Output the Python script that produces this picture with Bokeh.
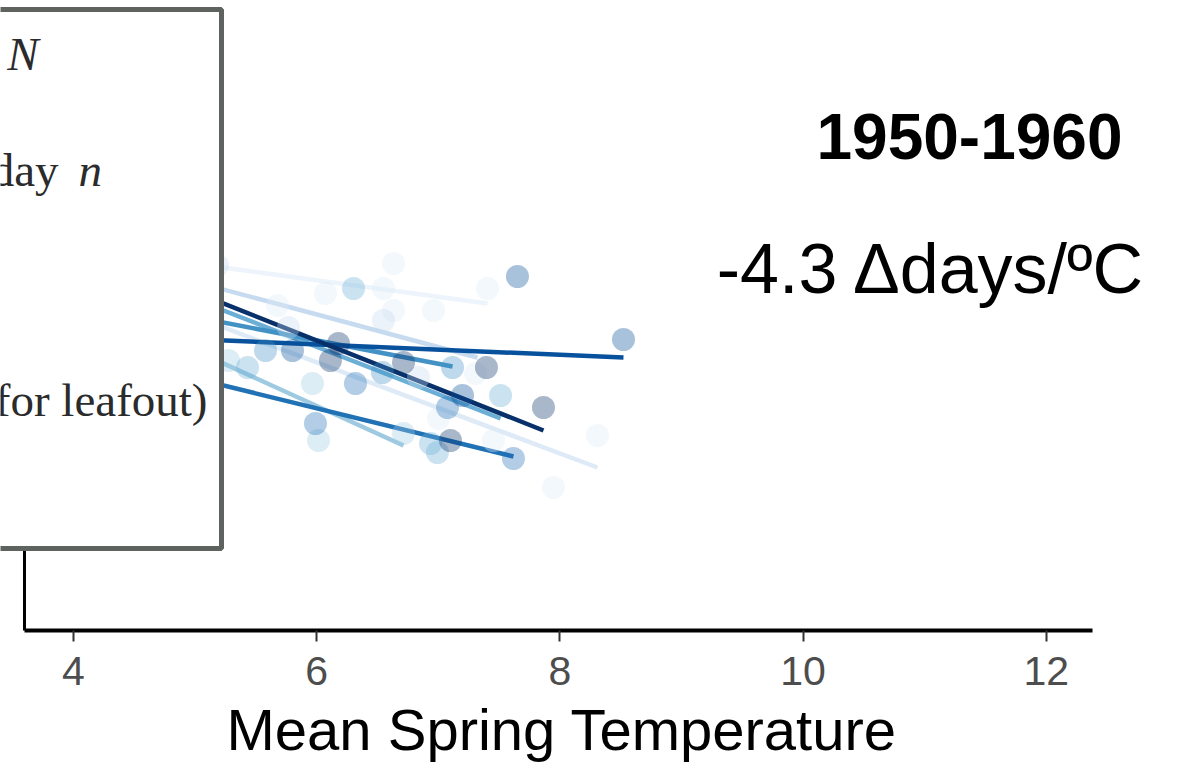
from bokeh.plotting import figure
from bokeh.models import Range1d, FixedTicker, Label, ColumnDataSource, Title
from bokeh.core.properties import value
from bokeh.embed import file_html
from bokeh.resources import INLINE

# ---- data ----
palette = ["#edf4fb", "#deebf7", "#c6dbef", "#9ecae1", "#6baed6",
           "#4292c6", "#2171b5", "#08519c", "#08306b"]

# regression lines per series (start / end of each fitted line)
line_x0 = [4.60, 4.60, 4.60, 4.60, 4.60, 4.60, 4.60, 4.60, 4.60]
line_y0 = [137.35, 133.18, 136.16, 130.21, 135.00, 132.28, 126.39, 129.33, 135.76]
line_x1 = [7.405, 8.309, 7.322, 6.714, 7.512, 7.117, 7.618, 8.523, 7.865]
line_y1 = [132.7, 116.3, 127.3, 118.5, 121.2, 126.4, 117.4, 127.3, 120.0]

# observed points (mean spring temperature, leafout day) with series index
pt_x = [6.632, 6.549, 6.072, 7.405, 6.632, 6.961,
        8.309, 7.947, 7.454, 7.002, 7.306, 5.678,
        5.184, 5.768, 6.837, 6.549,
        6.714, 5.965, 6.015, 5.275,
        7.512, 6.303, 6.993, 6.936, 5.431,
        7.117, 5.579, 6.541,
        6.319, 7.076, 7.618, 5.990,
        7.651, 8.523, 5.801, 7.199,
        6.179, 6.113, 6.714, 7.865, 7.100, 7.396]
pt_y = [136.7, 134.2, 133.7, 134.2, 132.0, 132.0,
        119.5, 114.3, 119.0, 121.2, 125.7, 132.5,
        136.5, 130.3, 125.3, 131.0,
        119.7, 124.7, 119.0, 127.0,
        123.5, 134.2, 117.8, 118.7, 126.3,
        126.3, 128.0, 125.8,
        124.7, 122.3, 117.2, 120.7,
        135.4, 129.1, 128.0, 123.5,
        128.7, 127.0, 126.8, 122.3, 119.0, 126.3]
pt_g = [0] * 6 + [1] * 6 + [2] * 4 + [3] * 4 + [4] * 5 + [5] * 3 + [6] * 4 + [7] * 4 + [8] * 6

x_ticks = [4, 6, 8, 10, 12]
title_text = "1950-1960"
slope_text = "-4.3 \u0394days/\u00baC"
x_label = "Mean Spring Temperature"

# ---- figure ----
x_lo, x_hi = 3.3997, 4 + (1182 - 73) / 121.6
p = figure(width=1182, height=768, output_backend="svg", toolbar_location=None,
           x_range=Range1d(x_lo, x_hi), y_range=Range1d(100, 163),
           min_border_left=0, min_border_right=0, min_border_top=0,
           min_border_bottom=138)
p.outline_line_color = None
p.grid.visible = False
p.yaxis.visible = False
p.background_fill_color = "white"
p.border_fill_color = "white"

ax = p.xaxis[0]
ax.bounds = (3.597, 12.38)
ax.ticker = FixedTicker(ticks=x_ticks)
ax.axis_line_width = 4
ax.axis_line_color = "black"
ax.major_tick_out = 11
ax.major_tick_in = 0
ax.major_tick_line_width = 2
ax.major_tick_line_color = "#333333"
ax.minor_tick_line_color = None
ax.major_label_text_font = "Liberation Sans"
ax.major_label_text_font_size = "41px"
ax.major_label_text_color = "#4d4d4d"
ax.major_label_standoff = 15
ax.axis_label = None

# x-axis title, centred under the drawn axis line
p.add_layout(Title(text=x_label, align="left", offset=226, standoff=14,
                   text_font="Liberation Sans", text_font_size="58px",
                   text_font_style="normal", text_color="black"), "below")

# left axis line
p.segment(x0=[3.597], y0=[99.8], x1=[3.597], y1=[162], line_color="black", line_width=3)

# lines
lsrc = ColumnDataSource(dict(x0=line_x0, y0=line_y0, x1=line_x1, y1=line_y1, c=palette))
p.segment(x0="x0", y0="y0", x1="x1", y1="y1", line_color="c", line_width=4.5, source=lsrc)

# points
psrc = ColumnDataSource(dict(x=pt_x, y=pt_y, c=[palette[g] if g > 0 else "#deebf7" for g in pt_g]))
p.scatter(x="x", y="y", size=23, fill_color="c", fill_alpha=0.35, line_color=None, source=psrc)

# overlay box
p.quad(left=[3.0], right=[5.217], bottom=[108.2], top=[162.1],
       fill_color="white", line_color="#5f6360", line_width=5)

serif = value("Liberation Serif")
tc = "#2b2b2b"
p.text(x=[3.712], y=[157.7], text=["N"], text_font=serif, text_font_size="47px",
       text_font_style="italic", text_align="right", text_baseline="alphabetic", text_color=tc)
p.text(x=[3.877], y=[146.1], text=["day"], text_font=serif, text_font_size="47px",
       text_align="right", text_baseline="alphabetic", text_color=tc)
p.text(x=[4.041], y=[146.1], text=["n"], text_font=serif, text_font_size="47px",
       text_font_style="italic", text_align="left", text_baseline="alphabetic", text_color=tc)
p.text(x=[5.102], y=[123.1], text=["for leafout)"], text_font=serif, text_font_size="47px",
       text_align="right", text_baseline="alphabetic", text_color=tc)

p.add_layout(Label(x=10.11, y=149.4, text=title_text, text_font="Liberation Sans",
                   text_font_size="64px", text_font_style="bold", text_color="black",
                   text_baseline="alphabetic"))
p.add_layout(Label(x=9.29, y=136.2, text=slope_text, text_font="Liberation Sans",
                   text_font_size="70px", text_color="black", text_baseline="alphabetic"))

open("out.html", "w").write(file_html(p, INLINE))
